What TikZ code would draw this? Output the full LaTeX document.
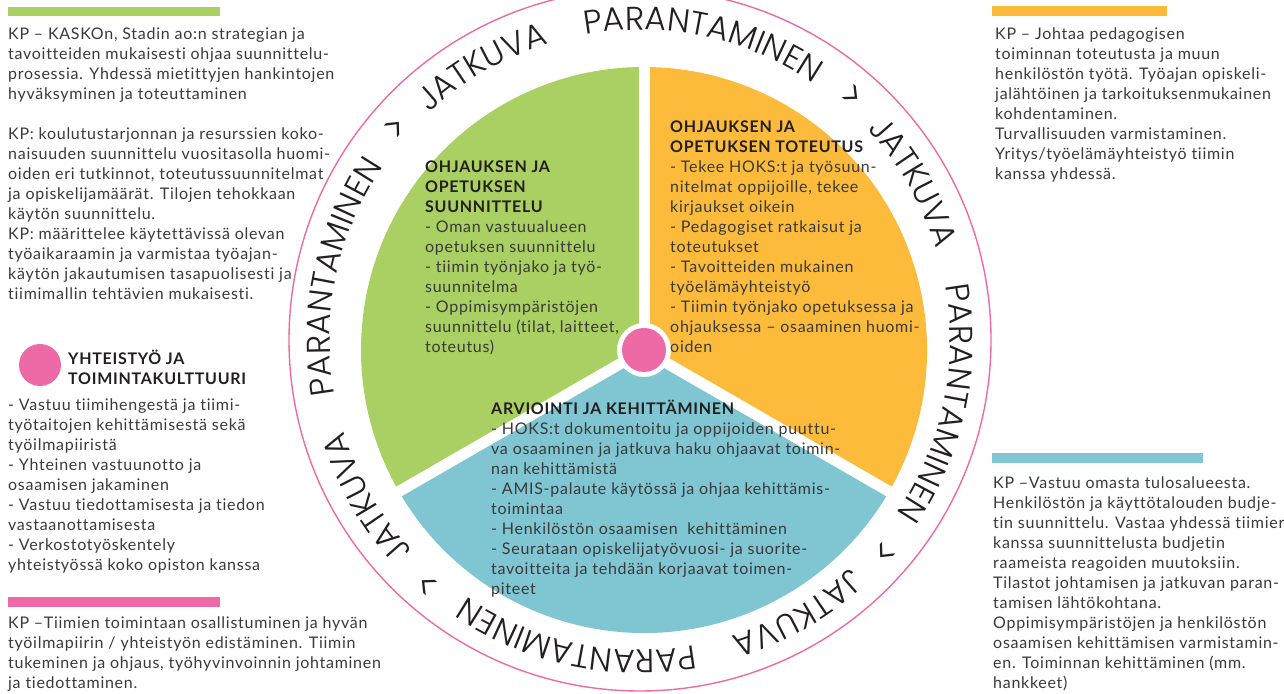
\documentclass[tikz,border=0pt]{standalone}
\usepackage{fontspec}
\setmainfont{Lato}[LetterSpace=4.5, Ligatures={NoCommon}]
\newfontfamily\ringfont{Poppins Light}
\usetikzlibrary{decorations.text}
\definecolor{leafgreen}{HTML}{AACF62}
\definecolor{sunorange}{HTML}{FCBB3B}
\definecolor{tealblue}{HTML}{7FC5D2}
\definecolor{rosepink}{HTML}{EE6AA6}
\definecolor{bodytext}{HTML}{3A3A3A}
\definecolor{headtext}{HTML}{231F20}
\newcommand\hdline[1]{{\color{headtext}\bfseries #1}}

\begin{document}
\begin{tikzpicture}[x=1pt,y=1pt,
  % multi-line blocks are placed by the baseline of their last line
  txt/.style={anchor=base west, align=left, inner sep=0pt, text=bodytext,
              font=\fontsize{16}{20}\selectfont},
  colourbar/.style={fill=#1, draw=none},
  sector/.style={fill=#1, draw=none},
  gapline/.style={draw=white, line width=11pt},
  ringword/.style={decorate, decoration={text along path, text align=center,
      text={|\ringfont\fontsize{33}{33}\selectfont\color{headtext}|#1}}},
  ringarrow/.style={decorate, decoration={text along path, text align=center,
      text={|\ringfont\fontsize{38}{38}\selectfont\color{headtext}|>}}}
]
% canvas
\fill[white] (0,0) rectangle (1284,693);
\useasboundingbox (0,0) rectangle (1284,693);

% centres of the wheel and of the lettered ring
\coordinate (hubc) at (644,343);
\coordinate (ringc) at (640,353);

% three sectors of the wheel
\path[sector=leafgreen] (hubc) -- ++(90:283) arc[start angle=90, end angle=210, radius=283] -- cycle;
\path[sector=sunorange] (hubc) -- ++(-30:283) arc[start angle=-30, end angle=90, radius=283] -- cycle;
\path[sector=tealblue] (hubc) -- ++(210:283) arc[start angle=210, end angle=330, radius=283] -- cycle;
\foreach \g in {90,210,330} \draw[gapline] (hubc) -- ++(\g:300);

% hub
\node[circle, fill=white, minimum size=54pt, inner sep=0pt] (hubring) at (hubc) {};
\node[circle, fill=rosepink, minimum size=44pt, inner sep=0pt] (hub) at (hubc) {};

% outer ring
\draw[rosepink, line width=1.4pt] (ringc) circle (351);

% lettered ring, four repeats of the same phrase
\foreach \a in {0,90,180,270} {
  \path[ringword=JATKUVA] (ringc) ++(150-\a:310) arc[start angle=150-\a, end angle=90-\a, radius=310];
  \path[ringword=PARANTAMINEN] (ringc) ++(115-\a:310) arc[start angle=115-\a, end angle=41-\a, radius=310];
  \path[ringarrow] (ringc) ++(60-\a:310) arc[start angle=60-\a, end angle=38-\a, radius=310];
}

% colour bars
\path[colourbar=leafgreen] (8,677) rectangle (220,686);
\path[colourbar=rosepink] (8,86) rectangle (220,96);
\path[colourbar=sunorange] (992,677) rectangle (1167,687);
\path[colourbar=tealblue] (992,230) rectangle (1203,240);

% side texts
\node[txt] (planning) at (8,393) {KP – KASKOn, Stadin ao:n strategian ja\\
tavoitteiden mukaisesti ohjaa suunnittelu-\\
prosessia. Yhdessä mietittyjen hankintojen\\
hyväksyminen ja toteuttaminen\\[20pt]
KP: koulutustarjonnan ja resurssien koko-\\
naisuuden suunnittelu vuositasolla huomi-\\
oiden eri tutkinnot, toteutussuunnitelmat\\
ja opiskelijamäärät. Tilojen tehokkaan\\
käytön suunnittelu.\\
KP: määrittelee käytettävissä olevan\\
työaikaraamin ja varmistaa työajan-\\
käytön jakautumisen tasapuolisesti ja\\
tiimimallin tehtävien mukaisesti.};

\node[circle, fill=rosepink, minimum size=42pt, inner sep=0pt] (coopdot) at (40,328) {};
\node[txt] (coophead) at (68,308) {\hdline{YHTEISTYÖ JA}\\ \hdline{TOIMINTAKULTTUURI}};
\node[txt] (coop) at (8,122) {- Vastuu tiimihengestä ja tiimi-\\
työtaitojen kehittämisestä sekä\\
työilmapiiristä\\
- Yhteinen vastuunotto ja\\
osaamisen jakaminen\\
- Vastuu tiedottamisesta ja tiedon\\
vastaanottamisesta\\
- Verkostotyöskentely\\
yhteistyössä koko opiston kanssa};

\node[txt] (teams) at (8,5) {KP –Tiimien toimintaan osallistuminen ja hyvän\\
työilmapiirin / yhteistyön edistäminen. Tiimin\\
tukeminen ja ohjaus, työhyvinvoinnin johtaminen\\
ja tiedottaminen.};

\node[txt] (leading) at (995,513) {KP – Johtaa pedagogisen\\
toiminnan toteutusta ja muun\\
henkilöstön työtä. Työajan opiskeli-\\
jalähtöinen ja tarkoituksenmukainen\\
kohdentaminen.\\
Turvallisuuden varmistaminen.\\
Yritys/työelämäyhteistyö tiimin\\
kanssa yhdessä.};

\node[txt] (budget) at (993,5) {KP –Vastuu omasta tulosalueesta.\\
Henkilöstön ja käyttötalouden budje-\\
tin suunnittelu. Vastaa yhdessä tiimier\\
kanssa suunnittelusta budjetin\\
raameista reagoiden muutoksiin.\\
Tilastot johtamisen ja jatkuvan paran-\\
tamisen lähtökohtana.\\
Oppimisympäristöjen ja henkilöstön\\
osaamisen kehittämisen varmistamin-\\
en. Toiminnan kehittäminen (mm.\\
hankkeet)};

% sector texts
\node[txt] (plantext) at (425,340) {\hdline{OHJAUKSEN JA}\\
\hdline{OPETUKSEN}\\
\hdline{SUUNNITTELU}\\
- Oman vastuualueen\\
opetuksen suunnittelu\\
- tiimin työnjako ja työ-\\
suunnitelma\\
- Oppimisympäristöjen\\
suunnittelu (tilat, laitteet,\\
toteutus)};

\node[txt] (dotext) at (670,340) {\hdline{OHJAUKSEN JA}\\
\hdline{OPETUKSEN TOTEUTUS}\\
- Tekee HOKS:t ja työsuun-\\
nitelmat oppijoille, tekee\\
kirjaukset oikein\\
- Pedagogiset ratkaisut ja\\
toteutukset\\
- Tavoitteiden mukainen\\
työelämäyhteistyö\\
- Tiimin työnjako opetuksessa ja\\
ohjauksessa – osaaminen huomi-\\
oiden};

\node[txt] (evaltext) at (491,98) {\hdline{ARVIOINTI JA KEHITTÄMINEN}\\
- HOKS:t dokumentoitu ja oppijoiden puuttu-\\
va osaaminen ja jatkuva haku ohjaavat toimin-\\
nan kehittämistä\\
- AMIS-palaute käytössä ja ohjaa kehittämis-\\
toimintaa\\
- Henkilöstön osaamisen\ \ kehittäminen\\
- Seurataan opiskelijatyövuosi- ja suorite-\\
tavoitteita ja tehdään korjaavat toimen-\\
piteet};
\end{tikzpicture}
\end{document}
